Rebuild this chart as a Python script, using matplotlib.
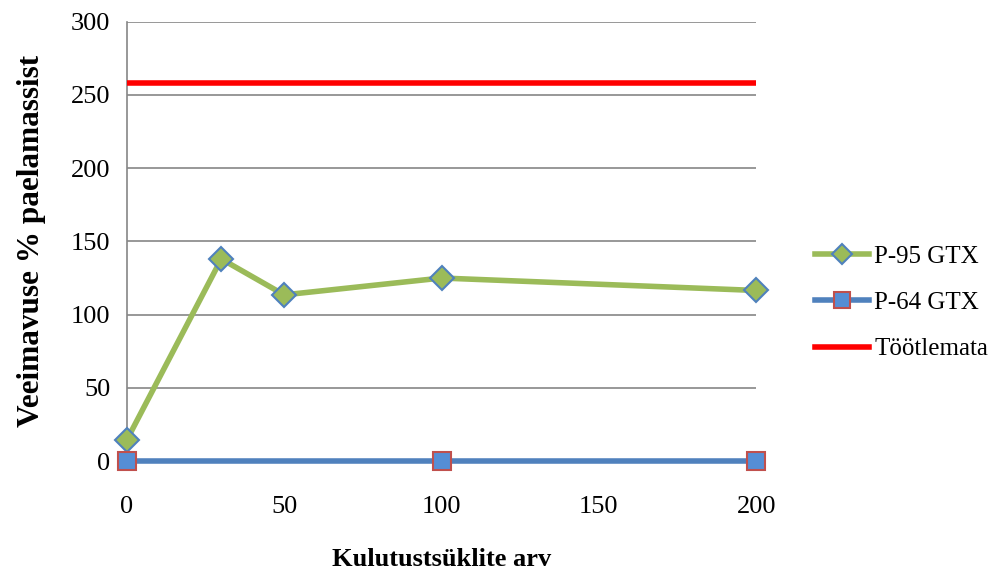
import numpy as np
import matplotlib.pyplot as plt

plt.rcParams['font.family'] = ['Liberation Serif', 'DejaVu Serif']

# cycle counts and water uptake, % of tape mass
x_p95 = [0, 30, 50, 100, 200]
y_p95 = [14.5, 138, 113.5, 125, 116.5]
x_p64 = [0, 100, 200]
y_p64 = [0, 0, 0]
x_ref = [0, 200]
y_ref = [258, 258]

x_ticks = [0, 50, 100, 150, 200]
y_ticks = [0, 50, 100, 150, 200, 250, 300]

fig = plt.figure(figsize=(9.99, 5.7), dpi=100)
ax = fig.add_axes([0.127, 0.191, 0.630, 0.771])

green = '#9BBB59'
blue = '#4F81BD'

ax.plot(x_p95, y_p95, color=green, lw=4, marker='D', ms=12.5,
        markerfacecolor=green, markeredgecolor=blue, markeredgewidth=1.5,
        label='P-95 GTX', zorder=4, clip_on=False)
ax.plot(x_p64, y_p64, color=blue, lw=4, marker='s', ms=13,
        markerfacecolor='#558ED5', markeredgecolor='#C0504D', markeredgewidth=1.5,
        label='P-64 GTX', zorder=5, clip_on=False)
ax.plot(x_ref, y_ref, color='#FF0000', lw=4, label='Töötlemata', zorder=3)

ax.set_xlim(0, 200)
ax.set_ylim(0, 300)
ax.set_xticks(x_ticks)
ax.set_yticks(y_ticks)
ax.grid(axis='y', color='#868686', lw=1.2)
ax.set_axisbelow(True)
for s in ['top', 'right', 'bottom']:
    ax.spines[s].set_visible(False)
ax.spines['left'].set_color('#868686')
ax.spines['left'].set_linewidth(1.2)
ax.tick_params(length=0, labelsize=19)
ax.tick_params(axis='x', pad=25)
ax.tick_params(axis='y', pad=12)

ax.set_xlabel('Kulutustsüklite arv', fontsize=19, fontweight='bold', labelpad=22)
ax.set_ylabel('Veeimavuse % paelamassist', fontsize=22.5, fontweight='bold', labelpad=18)

ax.legend(loc='center left', bbox_to_anchor=(1.094, 0.36), frameon=False,
          borderaxespad=0, borderpad=0, markerscale=0.85,
          fontsize=18, handlelength=2.15, handletextpad=0.2, labelspacing=0.95)

fig.savefig('out.png', dpi=100)
